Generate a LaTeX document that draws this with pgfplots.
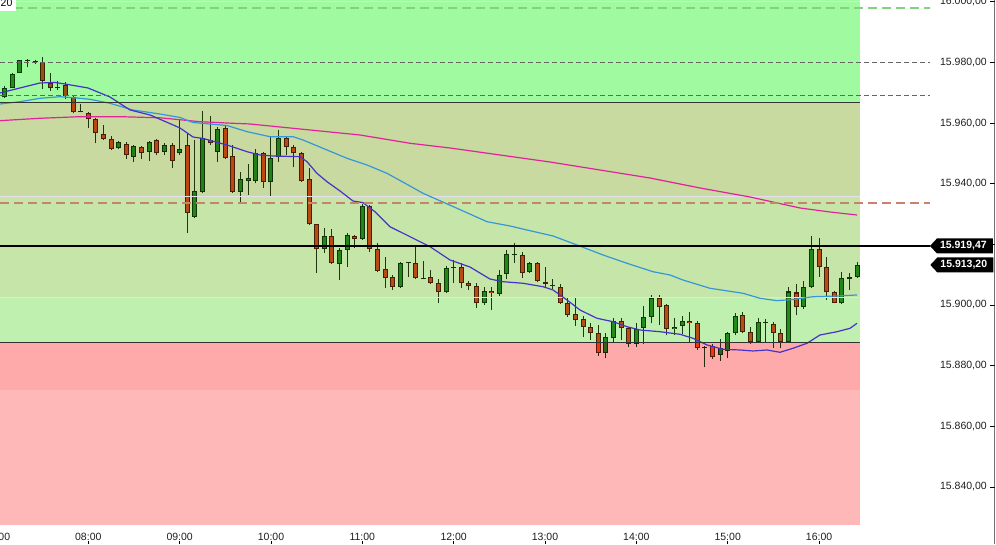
\documentclass[border=0pt]{standalone}
\usepackage{pgfplots}
\pgfplotsset{compat=1.18}
\usepackage{pgfplotstable}
\usepackage{fontspec}
\setmainfont{Liberation Sans}

\definecolor{zA}{RGB}{160,250,160}
\definecolor{zB}{RGB}{200,218,160}
\definecolor{zC}{RGB}{197,230,168}
\definecolor{zD}{RGB}{192,240,176}
\definecolor{zE}{RGB}{255,170,170}
\definecolor{zF}{RGB}{255,184,184}
\definecolor{bullfill}{RGB}{45,150,35}
\definecolor{bearfill}{RGB}{240,85,25}
\definecolor{bullline}{RGB}{20,60,10}
\definecolor{bearline}{RGB}{90,35,10}
\definecolor{wickc}{RGB}{40,60,20}
\definecolor{maFast}{RGB}{70,50,200}
\definecolor{maMid}{RGB}{55,150,215}
\definecolor{maSlow}{RGB}{225,35,155}
\definecolor{gdash}{RGB}{130,210,130}
\definecolor{rdash}{RGB}{200,130,110}
\definecolor{lav}{RGB}{232,222,242}
\definecolor{lbl}{RGB}{30,30,30}

\pgfplotstableread{
k O H L C
1 15968.50 15972.23 15968.11 15971.47
2 15971.47 15976.62 15971.41 15976.19
3 15976.42 15980.81 15976.35 15980.71
4 15980.40 15981.14 15978.40 15980.70
8 15971.67 15973.98 15970.91 15971.73
11 15963.56 15966.19 15963.49 15963.65
16 15951.88 15954.19 15951.45 15953.76
18 15948.91 15952.77 15947.26 15952.44
20 15950.56 15954.19 15947.59 15953.76
22 15950.56 15953.33 15949.47 15952.77
24 15950.03 15961.02 15949.47 15951.35
26 15929.12 15954.42 15928.69 15937.60
27 15937.37 15963.98 15936.84 15955.18
29 15950.56 15958.81 15947.26 15957.95
32 15937.37 15943.96 15934.07 15941.46
33 15941.00 15946.50 15936.28 15941.79
34 15941.00 15951.35 15940.14 15950.03
36 15940.47 15955.51 15935.95 15948.38
37 15948.71 15957.72 15947.26 15954.98
43 15918.37 15925.30 15917.15 15922.76
45 15913.42 15918.70 15908.24 15918.14
46 15918.14 15923.65 15912.63 15923.09
48 15921.67 15933.21 15921.44 15932.65
53 15905.84 15914.18 15905.61 15913.75
54 15913.85 15914.28 15909.13 15913.95
56 15908.67 15914.51 15908.48 15908.74
59 15904.19 15912.86 15904.06 15912.10
60 15912.30 15914.84 15907.35 15912.37
64 15900.56 15905.84 15900.00 15904.62
66 15903.63 15911.38 15902.97 15909.89
67 15910.12 15918.14 15908.41 15916.72
68 15916.33 15920.45 15913.85 15916.39
70 15910.78 15914.18 15910.45 15913.75
80 15884.07 15890.67 15882.42 15889.35
81 15889.02 15895.71 15887.37 15894.82
84 15887.14 15894.06 15886.24 15891.98
85 15892.31 15899.83 15886.97 15895.94
86 15895.94 15903.30 15893.90 15902.21
89 15891.98 15895.61 15890.10 15892.84
90 15893.17 15896.37 15890.43 15894.72
93 15885.72 15886.58 15879.45 15885.92
95 15883.51 15888.69 15881.63 15885.92
96 15884.83 15891.19 15882.62 15890.86
97 15890.67 15897.46 15890.10 15896.37
100 15887.89 15895.61 15887.70 15894.29
101 15894.16 15895.28 15887.56 15894.23
104 15887.89 15906.03 15887.70 15904.45
106 15899.24 15907.92 15898.68 15905.84
107 15905.84 15922.76 15905.51 15918.37
111 15900.56 15910.98 15900.23 15908.80
112 15908.48 15910.65 15904.95 15909.13
113 15909.33 15914.28 15908.80 15913.20
}\bull

\pgfplotstableread{
k O H L C
5 15980.57 15980.87 15979.49 15980.15
6 15980.24 15981.70 15971.14 15973.88
7 15973.32 15976.42 15970.68 15971.47
9 15972.56 15973.55 15968.04 15969.03
10 15968.70 15969.03 15963.23 15963.56
12 15963.42 15963.75 15958.28 15961.25
13 15961.25 15961.68 15953.33 15956.63
14 15956.40 15959.37 15954.58 15954.65
15 15954.65 15955.74 15951.12 15951.35
17 15953.00 15953.86 15948.15 15949.37
19 15952.01 15952.44 15948.15 15950.23
21 15954.32 15954.65 15949.47 15950.03
23 15952.77 15953.33 15945.09 15947.59
25 15952.77 15956.73 15923.85 15930.44
28 15954.42 15962.34 15952.77 15953.33
30 15958.28 15959.04 15948.15 15948.38
31 15949.14 15952.77 15937.10 15937.37
35 15950.03 15950.56 15938.69 15940.47
38 15954.98 15955.74 15949.47 15952.01
39 15952.01 15952.77 15945.42 15950.03
40 15950.03 15950.56 15940.57 15940.90
41 15941.46 15945.09 15926.38 15926.62
42 15926.62 15926.71 15910.65 15918.37
44 15922.76 15924.97 15913.52 15913.75
47 15922.76 15923.09 15918.70 15921.67
49 15932.65 15932.98 15917.58 15918.37
50 15918.37 15920.55 15910.98 15911.31
51 15911.77 15915.73 15905.51 15908.80
52 15909.13 15909.89 15904.95 15905.84
55 15913.75 15919.79 15908.57 15908.80
57 15909.13 15911.54 15906.93 15907.16
58 15907.16 15908.48 15900.56 15904.19
61 15912.43 15913.75 15905.51 15907.16
62 15907.16 15907.92 15904.95 15906.27
63 15906.27 15907.16 15898.91 15900.56
65 15904.62 15905.84 15898.19 15903.86
69 15916.49 15917.48 15909.00 15910.45
71 15913.85 15914.18 15907.42 15907.75
72 15907.49 15912.63 15906.03 15906.83
73 15906.60 15908.48 15905.18 15906.27
74 15905.84 15906.83 15900.33 15900.56
75 15900.56 15902.21 15896.14 15896.70
76 15896.93 15902.21 15893.17 15894.89
77 15895.28 15896.37 15889.35 15892.84
78 15892.84 15894.16 15888.46 15890.67
79 15890.86 15893.40 15883.18 15884.07
82 15894.56 15895.61 15888.29 15892.31
83 15892.31 15892.84 15886.24 15887.20
87 15902.21 15903.30 15893.40 15899.24
88 15900.00 15900.49 15890.10 15891.92
91 15894.82 15897.79 15887.37 15893.96
92 15893.96 15894.82 15885.16 15885.72
94 15886.58 15887.04 15882.19 15882.75
98 15896.70 15897.79 15890.67 15891.19
99 15891.19 15892.84 15887.14 15887.89
102 15893.63 15894.49 15885.82 15890.86
103 15890.86 15891.98 15885.72 15887.70
105 15904.12 15906.76 15896.54 15899.24
108 15918.37 15922.00 15909.33 15912.63
109 15912.63 15915.73 15901.65 15904.19
110 15904.19 15904.62 15900.56 15900.82
}\bear

\pgfplotstableread{
k v
0.40 15969.92
3.03 15971.57
5.65 15973.22
7.63 15973.38
8.94 15972.89
11.96 15971.57
14.85 15968.60
17.48 15964.31
20.11 15962.67
21.43 15961.25
24.05 15958.38
25.75 15955.41
27.07 15954.92
30.22 15952.77
32.85 15950.56
34.56 15949.47
36.26 15949.14
39.81 15948.91
40.73 15947.26
42.04 15943.43
43.36 15940.66
45.07 15937.60
46.77 15934.30
48.09 15933.74
49.66 15930.77
51.63 15925.82
54.26 15922.53
56.89 15919.23
59.52 15914.84
62.14 15912.53
64.77 15908.57
66.48 15907.68
69.11 15907.16
71.73 15906.03
73.05 15904.95
74.89 15901.65
76.59 15898.35
78.83 15895.61
80.93 15894.49
82.77 15892.84
84.48 15891.75
87.10 15891.19
89.73 15890.34
91.44 15889.02
93.28 15886.81
95.38 15885.39
97.61 15885.16
99.32 15884.83
101.16 15885.16
102.87 15884.40
104.58 15885.72
106.42 15887.37
108.12 15890.10
110.36 15891.19
112.07 15892.31
112.99 15893.96
}\maF

\pgfplotstableread{
k v
0.40 15966.29
3.03 15967.05
5.65 15968.17
8.28 15968.70
10.91 15968.17
12.22 15967.84
14.85 15966.52
17.87 15964.31
21.42 15962.99
24.05 15961.84
25.75 15960.19
30.22 15959.20
32.85 15957.16
35.87 15955.51
38.89 15955.51
40.20 15954.42
43.36 15951.12
45.99 15948.38
48.61 15946.17
51.24 15943.43
54.26 15939.25
55.97 15936.84
60.44 15931.89
64.38 15927.47
67.40 15926.06
69.63 15924.73
73.05 15922.76
76.20 15919.79
79.62 15916.49
82.77 15913.75
86.18 15910.98
88.42 15909.89
90.12 15908.24
93.67 15905.51
98.01 15903.86
100.24 15902.21
102.47 15901.42
104.58 15901.81
107.21 15902.73
110.36 15902.97
112.99 15903.30
}\maM

\pgfplotstableread{
k v
0.40 15960.79
5.65 15961.58
10.91 15962.11
16.16 15962.11
21.42 15961.74
26.67 15960.45
31.01 15959.93
33.24 15959.70
38.89 15958.28
47.69 15956.07
54.26 15953.33
59.52 15951.78
66.09 15949.47
72.65 15947.16
79.22 15944.52
85.79 15941.88
92.36 15938.59
98.93 15935.62
105.50 15931.99
109.44 15930.67
112.99 15929.68
}\maS

\begin{document}
\begin{tikzpicture}
\begin{axis}[
  scale only axis, width=994.5pt, height=544pt,
  xmin=0.4, xmax=131.05, ymin=15821.17, ymax=16000.59,
  axis line style={draw=none},
  xtick={12,24,...,108},
  xticklabels={08:00,09:00,10:00,11:00,12:00,13:00,14:00,15:00,16:00},
  ytick={15840,15860,15880,15900,15920,15940,15960,15980,16000},
  yticklabels={{15.840,00},{15.860,00},{15.880,00},{15.900,00},{},{15.940,00},{15.960,00},{15.980,00},{16.000,00}},
  xtick pos=left, ytick pos=right,
  xticklabel pos=left, yticklabel pos=right,
  tick align=inside,
  xtick style={draw=black, line width=0.8pt, /pgfplots/major tick length=3pt},
  ytick style={draw=black, line width=0.8pt, /pgfplots/major tick length=4.5pt},
  minor tick num=0,
  scaled y ticks=false,
  every tick label/.append style={font=\fontsize{10.5}{12}\selectfont, text=lbl, inner sep=0pt},
  yticklabel style={anchor=east, xshift=-7.5pt},
  xticklabel style={anchor=base, yshift=4pt},
]
% ---- candles: wicks
\addplot[draw=none, mark=none, forget plot, error bars/.cd, y dir=plus, y explicit, error mark=none,
  error bar style={line width=1pt, draw=wickc}]
  table[x=k, y=L, y error plus expr=\thisrow{H}-\thisrow{L}] {\bull};
\addplot[draw=none, mark=none, forget plot, error bars/.cd, y dir=plus, y explicit, error mark=none,
  error bar style={line width=1pt, draw=wickc}]
  table[x=k, y=L, y error plus expr=\thisrow{H}-\thisrow{L}] {\bear};
% ---- bodies: outline
\addplot[draw=none, mark=none, forget plot, error bars/.cd, y dir=plus, y explicit, error mark=none,
  error bar style={line width=5pt, draw=bullline}]
  table[x=k, y=O, y error plus expr={max(\thisrow{C}-\thisrow{O},0.33)}] {\bull};
\addplot[draw=none, mark=none, forget plot, error bars/.cd, y dir=plus, y explicit, error mark=none,
  error bar style={line width=5pt, draw=bearline}]
  table[x=k, y=C, y error plus expr={max(\thisrow{O}-\thisrow{C},0.33)}] {\bear};
% ---- bodies: fill
\addplot[draw=none, mark=none, forget plot, error bars/.cd, y dir=plus, y explicit, error mark=none,
  error bar style={line width=3pt, draw=bullfill}]
  table[x=k, y expr=\thisrow{O}+0.33, y error plus expr={max(\thisrow{C}-\thisrow{O}-0.66,0)}] {\bull};
\addplot[draw=none, mark=none, forget plot, error bars/.cd, y dir=plus, y explicit, error mark=none,
  error bar style={line width=3pt, draw=bearfill}]
  table[x=k, y expr=\thisrow{C}+0.33, y error plus expr={max(\thisrow{O}-\thisrow{C}-0.66,0)}] {\bear};

% ---- zones (multiplied over candles)
\addplot[draw=none, fill=zA, blend mode=multiply, forget plot] coordinates {(0.4,15966.62) (113.38,15966.62) (113.38,16000.59) (0.4,16000.59)} -- cycle;
\addplot[draw=none, fill=zB, blend mode=multiply, forget plot] coordinates {(0.4,15935.78) (113.38,15935.78) (113.38,15966.62) (0.4,15966.62)} -- cycle;
\addplot[draw=none, fill=zC, blend mode=multiply, forget plot] coordinates {(0.4,15902.47) (113.38,15902.47) (113.38,15935.78) (0.4,15935.78)} -- cycle;
\addplot[draw=none, fill=zD, blend mode=multiply, forget plot] coordinates {(0.4,15887.56) (113.38,15887.56) (113.38,15902.47) (0.4,15902.47)} -- cycle;
\addplot[draw=none, fill=zE, blend mode=multiply, forget plot] coordinates {(0.4,15871.96) (113.38,15871.96) (113.38,15887.56) (0.4,15887.56)} -- cycle;
\addplot[draw=none, fill=zF, blend mode=multiply, forget plot] coordinates {(0.4,15827.44) (113.38,15827.44) (113.38,15871.96) (0.4,15871.96)} -- cycle;

% ---- faint zone lines
\addplot[lav, line width=1pt, forget plot] coordinates {(0.4,15935.78) (113.38,15935.78)};
\addplot[lav, line width=1pt, forget plot] coordinates {(0.4,15902.47) (113.38,15902.47)};
\addplot[lav, line width=1pt, forget plot] coordinates {(0.4,16000.05) (113.38,16000.05)};

% ---- moving averages
\addplot[maSlow, line width=1.2pt, forget plot] table[x=k, y=v] {\maS};
\addplot[maMid, line width=1.2pt, forget plot] table[x=k, y=v] {\maM};
\addplot[maFast, line width=1.2pt, forget plot] table[x=k, y=v] {\maF};

% ---- horizontal levels
\addplot[gdash, line width=2pt, dash pattern=on 9pt off 5pt, forget plot] coordinates {(0.4,15997.95) (122.57,15997.95)};
\addplot[black!60, line width=0.8pt, dash pattern=on 5pt off 3pt, forget plot] coordinates {(0.4,15980.00) (122.57,15980.00)};
\addplot[black!60, line width=0.8pt, dash pattern=on 5pt off 3pt, forget plot] coordinates {(0.4,15969.10) (122.57,15969.10)};
\addplot[black!80, line width=1pt, forget plot] coordinates {(0.4,15966.62) (113.38,15966.62)};
\addplot[rdash, line width=2pt, dash pattern=on 9pt off 5pt, forget plot] coordinates {(0.4,15933.64) (122.57,15933.64)};
\addplot[black, line width=1.1pt, forget plot] coordinates {(0.4,15919.47) (122.57,15919.47)};
\addplot[black!80, line width=1pt, forget plot] coordinates {(0.4,15887.56) (113.38,15887.56)};

% ---- price tags
\fill[black] (axis cs:122.57,15919.47) -- ++(7pt,7.5pt) -- ++(56pt,0pt) -- ++(0pt,-15pt) -- ++(-56pt,0pt) -- cycle;
\node[text=white, font=\bfseries\fontsize{10.5}{12}\selectfont, anchor=east, inner sep=0pt] at ([xshift=57pt]axis cs:122.57,15919.47) {15.919,47};
\fill[black] (axis cs:122.62,15913.20) -- ++(7pt,7.5pt) -- ++(56pt,0pt) -- ++(0pt,-15pt) -- ++(-56pt,0pt) -- cycle;
\node[text=white, font=\bfseries\fontsize{10.5}{12}\selectfont, anchor=east, inner sep=0pt] at ([xshift=57pt]axis cs:122.62,15913.20) {15.913,20};

% ---- extra labels
\node[anchor=base, font=\fontsize{10.5}{12}\selectfont, text=lbl, inner sep=0pt] at ([yshift=4pt]axis cs:0,15821.17) {07:00};
\fill[white] (rel axis cs:0,1) rectangle ([xshift=16pt,yshift=-11.5pt]rel axis cs:0,1);
\node[anchor=base west, font=\fontsize{10.5}{12}\selectfont, text=black, inner sep=0pt] at ([xshift=0.5pt,yshift=-6.7pt]rel axis cs:0,1) {20};
\draw[black!85, line width=1.5pt] (rel axis cs:1,0) -- (rel axis cs:1,1);
\end{axis}
\pgfresetboundingbox
\path (current axis.south west) rectangle ([xshift=1.5pt]current axis.north east);
\end{tikzpicture}
\end{document}
